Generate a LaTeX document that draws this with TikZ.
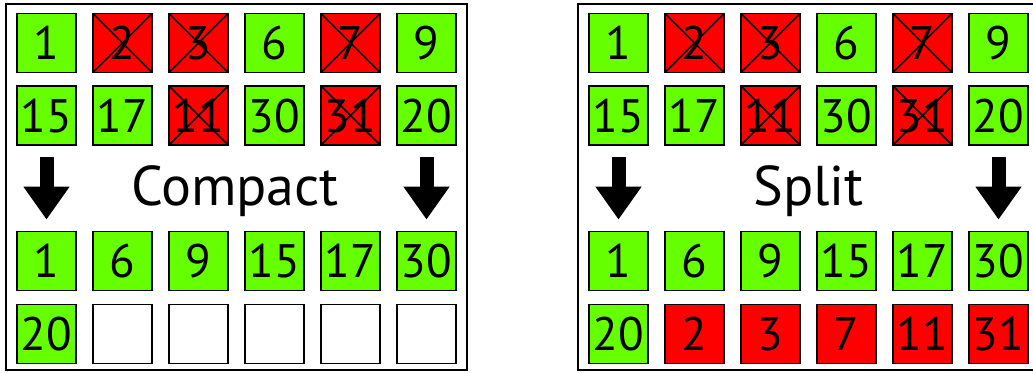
\documentclass[tikz,border=0pt]{standalone}
\usepackage{fontspec}
\setmainfont{PT Sans}
\usetikzlibrary{arrows.meta}
\definecolor{cgreen}{HTML}{66FF00}
\definecolor{cred}{HTML}{FF0000}
\tikzset{
  cell/.style={draw=black, line width=1.8pt, minimum size=59pt, inner sep=0pt,
    font=\fontsize{47}{50}\selectfont, text depth=0pt, text height=33pt},
  gcell/.style={cell, fill=cgreen},
  rcell/.style={cell, fill=cred},
  ecell/.style={cell, fill=white},
  xcell/.style={cell, fill=cred, path picture={
    \draw[line width=1.7pt] (path picture bounding box.north west) -- (path picture bounding box.south east);
    \draw[line width=1.7pt] (path picture bounding box.south west) -- (path picture bounding box.north east);}},
  frame/.style={draw=black, line width=2pt},
  title/.style={font=\fontsize{56}{60}\selectfont, anchor=base},
  bigarrow/.style={line width=14pt, -{Triangle[width=44pt,length=33pt]}, shorten <=11pt, shorten >=11pt}
}
\begin{document}
\begin{tikzpicture}[x=1pt, y=-1pt]
\useasboundingbox (0,0) rectangle (1033,372);
\clip (0,0) rectangle (1033,372);
% frames
\draw[frame] (6,4) rectangle (467,370);
\draw[frame] (578,4) rectangle (1039,370);
% left panel
\foreach \lab/\sty [count=\c from 0] in {1/gcell,2/xcell,3/xcell,6/gcell,7/xcell,9/gcell}
  \node[\sty] (L1-\c) at (46.5+76*\c, 43) {\lab};
\foreach \lab/\sty [count=\c from 0] in {15/gcell,17/gcell,11/xcell,30/gcell,31/xcell,20/gcell}
  \node[\sty] (L2-\c) at (46.5+76*\c, 115.5) {\lab};
\foreach \lab/\sty [count=\c from 0] in {1/gcell,6/gcell,9/gcell,15/gcell,17/gcell,30/gcell}
  \node[\sty] (L3-\c) at (46.5+76*\c, 261) {\lab};
\foreach \lab/\sty [count=\c from 0] in {20/gcell,/ecell,/ecell,/ecell,/ecell,/ecell}
  \node[\sty] (L4-\c) at (46.5+76*\c, 334) {\lab};
\node[title] (LT) at (235,205) {Compact};
\draw[bigarrow] (L2-0.south) -- (L3-0.north);
\draw[bigarrow] (L2-5.south) -- (L3-5.north);
% right panel
\foreach \lab/\sty [count=\c from 0] in {1/gcell,2/xcell,3/xcell,6/gcell,7/xcell,9/gcell}
  \node[\sty] (R1-\c) at (618.5+76*\c, 43) {\lab};
\foreach \lab/\sty [count=\c from 0] in {15/gcell,17/gcell,11/xcell,30/gcell,31/xcell,20/gcell}
  \node[\sty] (R2-\c) at (618.5+76*\c, 115.5) {\lab};
\foreach \lab/\sty [count=\c from 0] in {1/gcell,6/gcell,9/gcell,15/gcell,17/gcell,30/gcell}
  \node[\sty] (R3-\c) at (618.5+76*\c, 261) {\lab};
\foreach \lab/\sty [count=\c from 0] in {20/gcell,2/rcell,3/rcell,7/rcell,11/rcell,31/rcell}
  \node[\sty] (R4-\c) at (618.5+76*\c, 334) {\lab};
\node[title] (RT) at (808.5,205) {Split};
\draw[bigarrow] (R2-0.south) -- (R3-0.north);
\draw[bigarrow] (R2-5.south) -- (R3-5.north);
\end{tikzpicture}
\end{document}
